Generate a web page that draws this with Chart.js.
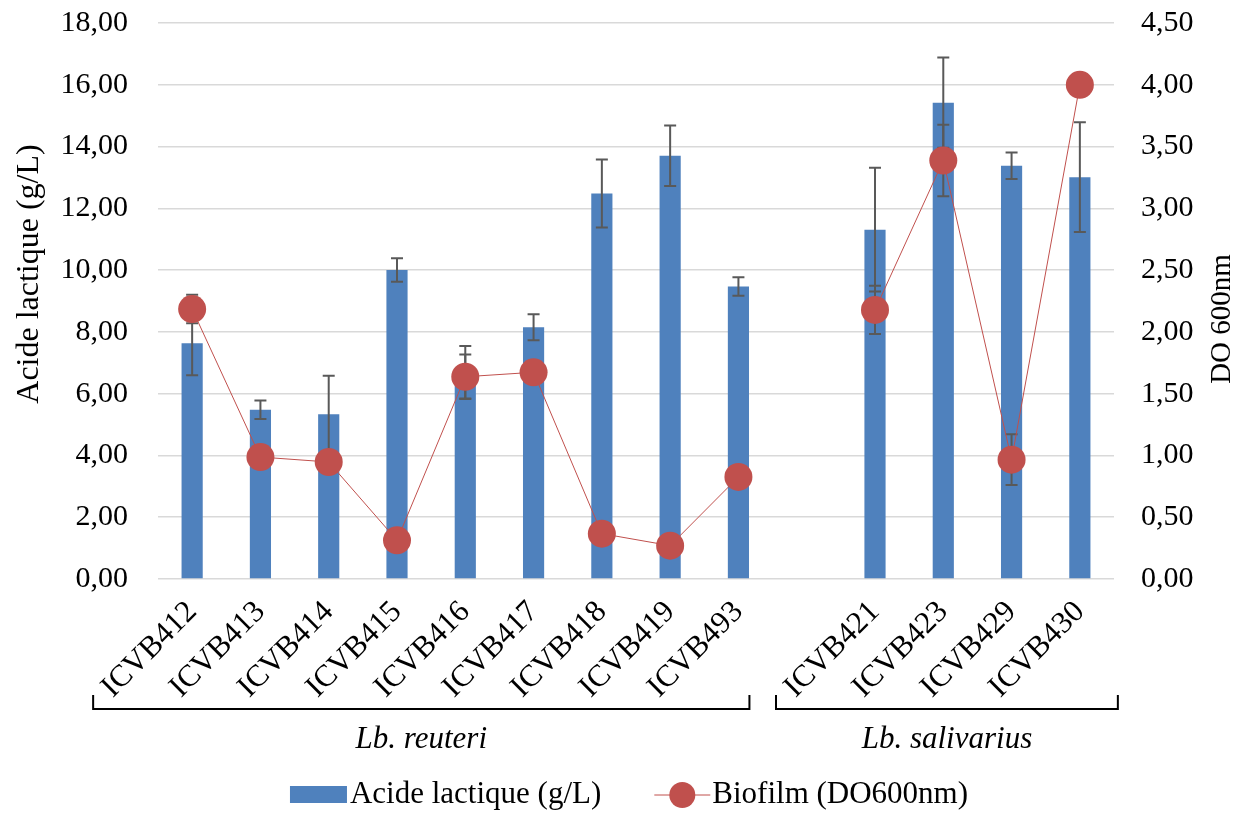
<!DOCTYPE html>
<html>
<head>
<meta charset="utf-8">
<script src="https://cdn.jsdelivr.net/npm/chart.js@4"></script>
<style>
  html, body { margin: 0; padding: 0; background: #fff; }
  #wrap { width: 1244px; height: 813px; }
</style>
</head>
<body>
<div id="wrap"><canvas id="myChart"></canvas></div>
<script>
  // data ('' = gap between the two species)
  const souches = ['ICVB412', 'ICVB413', 'ICVB414', 'ICVB415', 'ICVB416', 'ICVB417', 'ICVB418', 'ICVB419', 'ICVB493', '', 'ICVB421', 'ICVB423', 'ICVB429', 'ICVB430'];
  const acideLactique = [7.63, 5.48, 5.33, 10.0, 6.69, 8.15, 12.48, 13.7, 9.47, null, 11.31, 15.42, 13.38, 13.01];
  const acideErr = [1.03, 0.3, 1.25, 0.38, 0.85, 0.42, 1.1, 0.98, 0.3, null, 2.0, 1.46, 0.43, 1.78];
  const biofilm = [2.185, 0.987, 0.947, 0.313, 1.637, 1.673, 0.367, 0.27, 0.826, null, 2.178, 3.387, 0.966, 4.0];
  const biofilmErr = [0.115, 0, 0, 0, 0.18, 0, 0, 0, 0, null, 0.195, 0.29, 0.205, 0];
  const groupes = [
    { nom: 'Lb. reuteri', debut: 0, fin: 8 },
    { nom: 'Lb. salivarius', debut: 10, fin: 13 }
  ];

  const BLEU = '#4F81BD';
  const ROUGE = '#C0504D';
  const POLICE = "'Liberation Serif', 'Times New Roman', serif";
  const virgule = v => Number(v).toFixed(2).replace('.', ',');

  Chart.defaults.font.family = POLICE;
  Chart.defaults.font.size = 30;
  Chart.defaults.color = '#000';

  function barresErreur(ctx, meta, errs, scale) {
    ctx.save();
    ctx.strokeStyle = '#595959';
    ctx.lineWidth = 2;
    meta.data.forEach((el, i) => {
      const v = meta._parsed[i] ? meta._parsed[i].y : null;
      const e = errs[i];
      if (v == null || !e) return;
      const x = el.x;
      const y1 = scale.getPixelForValue(v + e);
      const y2 = scale.getPixelForValue(v - e);
      ctx.beginPath();
      ctx.moveTo(x, y1); ctx.lineTo(x, y2);
      ctx.moveTo(x - 6, y1); ctx.lineTo(x + 6, y1);
      ctx.moveTo(x - 6, y2); ctx.lineTo(x + 6, y2);
      ctx.stroke();
    });
    ctx.restore();
  }

  const erreurs = {
    id: 'erreurs',
    afterDatasetDraw(chart, args) {
      // all error bars go right after the bars, so the red circles sit on top
      if (args.index !== 0) return;
      barresErreur(chart.ctx, chart.getDatasetMeta(0), acideErr, chart.scales.y);
      barresErreur(chart.ctx, chart.getDatasetMeta(1), biofilmErr, chart.scales.y1);
    }
  };

  const decor = {
    id: 'decor',
    afterDraw(chart) {
      const ctx = chart.ctx;
      const x = chart.scales.x;
      const area = chart.chartArea;
      ctx.save();

      // accolades + noms d'espèces
      ctx.strokeStyle = '#000';
      ctx.lineWidth = 2;
      ctx.fillStyle = '#000';
      ctx.font = 'italic 31px ' + POLICE;
      ctx.textAlign = 'center';
      ctx.textBaseline = 'middle';
      const yb = area.bottom + 130;
      groupes.forEach((g, k) => {
        const x1 = x.getPixelForValue(g.debut) - 99;
        const x2 = x.getPixelForValue(g.fin) + (k === 0 ? 11 : 38);
        ctx.beginPath();
        ctx.moveTo(x1, yb - 14); ctx.lineTo(x1, yb); ctx.lineTo(x2, yb); ctx.lineTo(x2, yb - 14);
        ctx.stroke();
        ctx.fillText(g.nom, (x1 + x2) / 2, yb + 31);
      });

      // titres des axes (lus de bas en haut)
      ctx.save();
      ctx.font = '32px ' + POLICE;
      ctx.translate(30, 274);
      ctx.rotate(-Math.PI / 2);
      ctx.fillText('Acide lactique (g/L)', 0, 0);
      ctx.restore();
      ctx.save();
      ctx.font = '29px ' + POLICE;
      ctx.translate(1222, 319);
      ctx.rotate(-Math.PI / 2);
      ctx.fillText('DO 600nm', 0, 0);
      ctx.restore();

      // légende
      ctx.font = '31px ' + POLICE;
      const t1 = chart.data.datasets[0].label;
      const t2 = chart.data.datasets[1].label;
      const w1 = ctx.measureText(t1).width;
      const w2 = ctx.measureText(t2).width;
      const total = 57 + 3 + w1 + 53 + 56 + 2 + w2;
      let lx = 629 - total / 2;
      const ly = 795;
      ctx.textAlign = 'left';
      ctx.fillStyle = BLEU;
      ctx.fillRect(lx, ly - 9, 57, 17);
      lx += 60;
      ctx.fillStyle = '#000';
      ctx.fillText(t1, lx, ly);
      lx += w1 + 53;
      ctx.strokeStyle = ROUGE;
      ctx.lineWidth = 1;
      ctx.beginPath(); ctx.moveTo(lx, ly); ctx.lineTo(lx + 56, ly); ctx.stroke();
      ctx.fillStyle = ROUGE;
      ctx.beginPath(); ctx.arc(lx + 28, ly, 13, 0, Math.PI * 2); ctx.fill();
      lx += 58;
      ctx.fillStyle = '#000';
      ctx.fillText(t2, lx, ly);
      ctx.restore();
    }
  };

  const ctx = document.getElementById('myChart');

  new Chart(ctx, {
    type: 'bar',
    data: {
      labels: souches,
      datasets: [{
        type: 'bar',
        label: 'Acide lactique (g/L)',
        data: acideLactique,
        backgroundColor: BLEU,
        categoryPercentage: 1,
        barPercentage: 0.31,
        yAxisID: 'y',
        order: 2
      }, {
        type: 'line',
        label: 'Biofilm (DO600nm)',
        data: biofilm,
        borderColor: ROUGE,
        borderWidth: 1,
        backgroundColor: ROUGE,
        pointRadius: 14,
        pointBorderWidth: 0,
        pointBackgroundColor: ROUGE,
        spanGaps: false,
        yAxisID: 'y1',
        order: 1
      }]
    },
    options: {
      responsive: true,
      maintainAspectRatio: false,
      animation: false,
      layout: { padding: { top: 23, bottom: 0, left: 0, right: 0 } },
      plugins: {
        legend: { display: false },
        tooltip: { enabled: false }
      },
      scales: {
        x: {
          grid: { display: false, drawTicks: false },
          border: { display: false },
          ticks: { autoSkip: false, minRotation: 45, maxRotation: 45, padding: 15, font: { size: 31 } },
          afterFit: s => { s.height = 234; }
        },
        y: {
          position: 'left',
          min: 0, max: 18,
          ticks: { stepSize: 2, padding: 30, callback: virgule },
          grid: { color: '#D9D9D9', lineWidth: 1.5, drawTicks: false },
          border: { display: false },
          afterFit: s => { s.width = 158; s.paddingTop = 0; s.paddingBottom = 0; }
        },
        y1: {
          position: 'right',
          min: 0, max: 4.5,
          ticks: { stepSize: 0.5, padding: 27, callback: virgule },
          grid: { display: false, drawTicks: false },
          border: { display: false },
          afterFit: s => { s.width = 130; s.paddingTop = 0; s.paddingBottom = 0; }
        }
      }
    },
    plugins: [erreurs, decor]
  });
</script>
</body>
</html>
